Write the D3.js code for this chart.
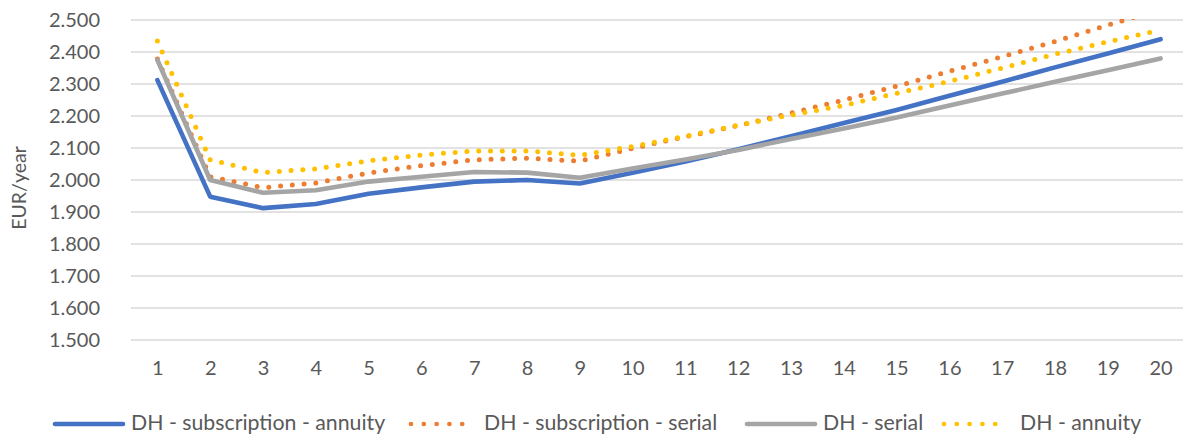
<!DOCTYPE html>
<html>
<head>
<meta charset="utf-8">
<script src="https://cdn.jsdelivr.net/npm/d3@7/dist/d3.min.js"></script>
<style>
  html, body { margin: 0; padding: 0; background: #fff; }
  svg { display: block; }
  text { font-family: Lato, "Open Sans", sans-serif; fill: #595959; }
</style>
</head>
<body>
<svg id="chart" width="1183" height="436"></svg>
<script>
// Years 1..20
const years = d3.range(1, 21).map(String);

// Annual cost per series, EUR/year
const subscriptionAnnuity = [2312, 1948, 1912, 1925, 1957, 1977, 1995, 2000, 1989, 2023, 2058, 2096, 2137, 2178, 2219, 2263, 2307, 2352, 2395, 2440];
const subscriptionSerial  = [2378, 2010, 1976, 1991, 2022, 2045, 2063, 2068, 2059, 2099, 2135, 2170, 2209, 2250, 2293, 2340, 2385, 2433, 2484, 2533];
const serial              = [2375, 2000, 1960, 1968, 1995, 2010, 2025, 2023, 2007, 2036, 2064, 2094, 2128, 2161, 2195, 2233, 2270, 2307, 2343, 2380];
const annuity             = [2434, 2063, 2023, 2035, 2060, 2078, 2091, 2091, 2077, 2105, 2137, 2171, 2203, 2233, 2271, 2308, 2350, 2393, 2432, 2469];

const seriesNames = ["DH - subscription - annuity", "DH - subscription - serial", "DH - serial", "DH - annuity"];
const yTicks = [1500, 1600, 1700, 1800, 1900, 2000, 2100, 2200, 2300, 2400, 2500];

const series = [
  { name: seriesNames[0], values: subscriptionAnnuity, color: "#4472C4", dotted: false },
  { name: seriesNames[1], values: subscriptionSerial,  color: "#ED7D31", dotted: true },
  { name: seriesNames[2], values: serial,              color: "#A5A5A5", dotted: false },
  { name: seriesNames[3], values: annuity,             color: "#FFC000", dotted: true }
];

const svg = d3.select("#chart");
const plot = { left: 131, right: 1187, top: 20, bottom: 340 };

const x = d3.scalePoint().domain(years).range([plot.left, plot.right]).padding(0.5);
const y = d3.scaleLinear().domain([1500, 2500]).range([plot.bottom, plot.top]);

// 1500 -> "1.500"
const fmt = v => d3.format(",.3f")(v / 1000).replace(",", "");

// Gridlines
svg.append("g")
  .selectAll("line")
  .data(yTicks)
  .join("line")
  .attr("x1", plot.left).attr("x2", plot.right)
  .attr("y1", d => y(d)).attr("y2", d => y(d))
  .attr("stroke", "#d9d9d9").attr("stroke-width", 1.3);

// Y axis labels
const yAxis = svg.append("g")
  .attr("transform", `translate(${plot.left - 31},0)`)
  .call(d3.axisLeft(y).tickValues(yTicks).tickSize(0).tickPadding(0).tickFormat(fmt));
yAxis.select(".domain").remove();
yAxis.selectAll("text")
  .attr("font-size", 20)
  .attr("font-family", "Lato, sans-serif")
  .attr("fill", "#595959");

// X axis labels
const xAxis = svg.append("g")
  .attr("transform", `translate(0,${plot.bottom + 21})`)
  .call(d3.axisBottom(x).tickSize(0).tickPadding(0));
xAxis.select(".domain").remove();
xAxis.selectAll("text")
  .attr("font-size", 20)
  .attr("font-family", "Lato, sans-serif")
  .attr("fill", "#595959");

// Y axis title
svg.append("text")
  .attr("transform", "translate(26,188) rotate(-90)")
  .attr("text-anchor", "middle")
  .attr("font-size", 19.5)
  .text("EUR/year");

// Clip lines to the plot area
svg.append("clipPath").attr("id", "plotClip")
  .append("rect")
  .attr("x", plot.left - 10).attr("y", plot.top - 1)
  .attr("width", plot.right - plot.left + 20).attr("height", plot.bottom - plot.top + 10);

const line = d3.line()
  .x((d, i) => x(years[i]))
  .y(d => y(d));

const lines = svg.append("g").attr("clip-path", "url(#plotClip)");

series.forEach(s => {
  const p = lines.append("path")
    .datum(s.values)
    .attr("d", line)
    .attr("fill", "none")
    .attr("stroke", s.color)
    .attr("stroke-width", s.dotted ? 5 : 4.6)
    .attr("stroke-linejoin", "round")
    .attr("stroke-linecap", "round");
  if (s.dotted) p.attr("stroke-dasharray", "0 11.8");
});

// Legend
const legendY = 424;
const legendItems = [
  { x0: 55,  x1: 123,  tx: 131,  s: series[0] },
  { x0: 411, x1: 475,  tx: 484,  s: series[1] },
  { x0: 747, x1: 815,  tx: 823,  s: series[2] },
  { x0: 944, x1: 1008, tx: 1020, s: series[3] }
];
const legend = svg.append("g");
legendItems.forEach(it => {
  const l = legend.append("line")
    .attr("x1", it.x0).attr("x2", it.x1)
    .attr("y1", legendY).attr("y2", legendY)
    .attr("stroke", it.s.color)
    .attr("stroke-width", 4.7)
    .attr("stroke-linecap", "round");
  if (it.s.dotted) l.attr("stroke-dasharray", "0 12.8");
  legend.append("text")
    .attr("x", it.tx).attr("y", legendY)
    .attr("dy", "0.3em")
    .attr("font-size", 21.3)
    .text(it.s.name);
});
</script>
</body>
</html>
